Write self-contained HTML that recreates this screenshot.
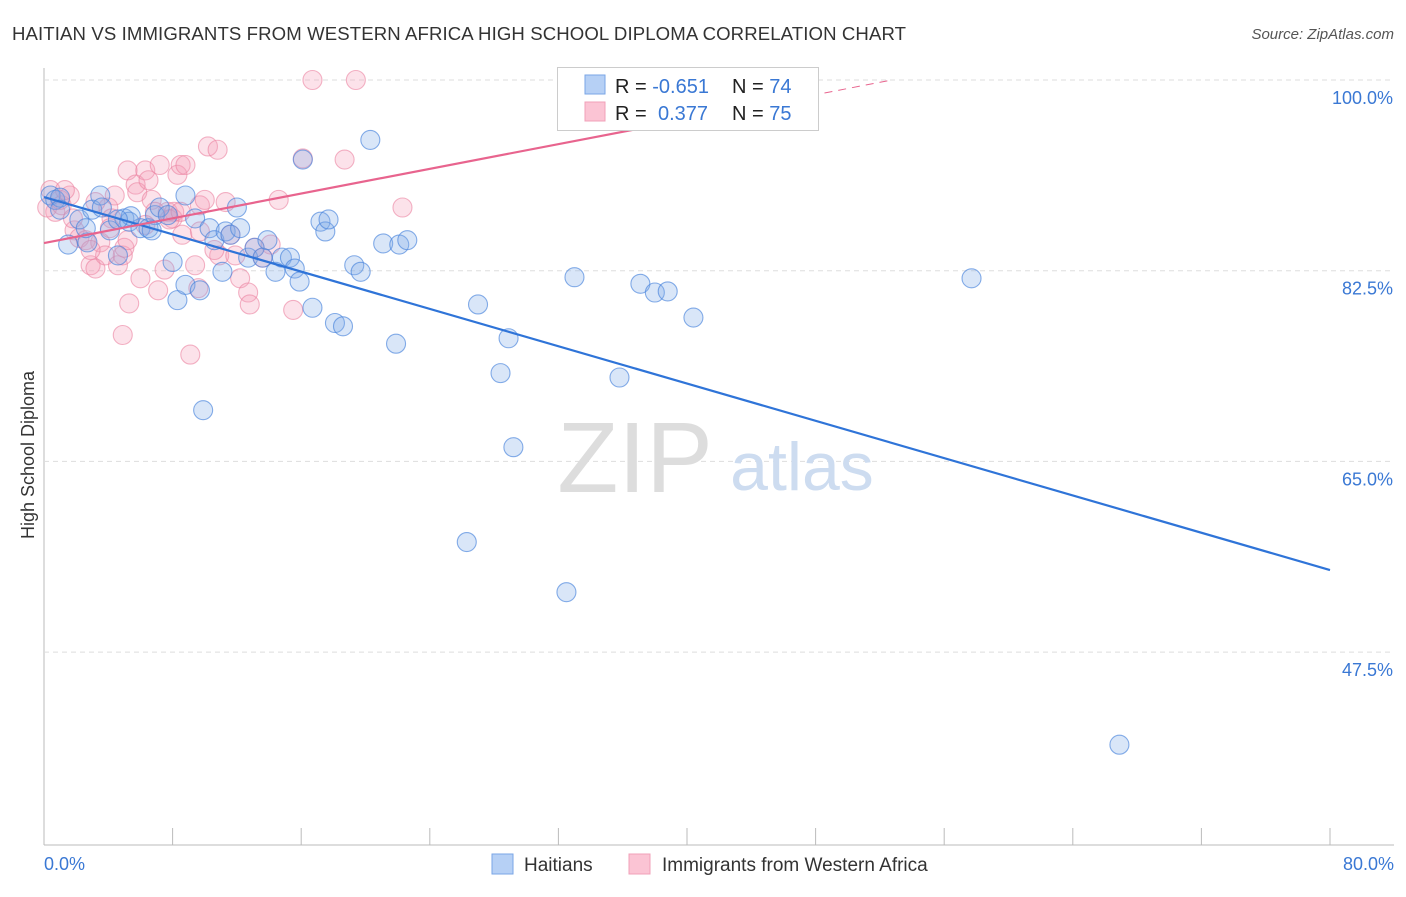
<!DOCTYPE html>
<html><head><meta charset="utf-8"><style>
body{margin:0;background:#fff;font-family:"Liberation Sans",sans-serif;}
svg text{font-family:"Liberation Sans",sans-serif;}
</style></head><body>
<svg id="c" width="1406" height="892" xmlns="http://www.w3.org/2000/svg">
<text x="12" y="40" font-size="18.6" fill="#333" textLength="894">HAITIAN VS IMMIGRANTS FROM WESTERN AFRICA HIGH SCHOOL DIPLOMA CORRELATION CHART</text>
<text x="1394" y="39" font-size="15" fill="#555" font-style="italic" text-anchor="end">Source: ZipAtlas.com</text>
<g id="grid"></g>
<text x="635" y="492" font-size="100" fill="#ddd" font-family="Liberation Serif" text-anchor="middle">ZIP</text>
<text x="802" y="490" font-size="68" fill="#cddcf0" text-anchor="middle">atlas</text>
<g id="pts"></g>
<g id="lines"></g>
<text transform="translate(34,455) rotate(-90)" font-size="18" fill="#333" text-anchor="middle">High School Diploma</text>
<text x="44" y="870" font-size="18" fill="#3a78d4">0.0%</text>
<text x="1394" y="870" font-size="18" fill="#3a78d4" text-anchor="end">80.0%</text>
<g>
<rect x="557.5" y="67.5" width="261" height="63" fill="#fff" stroke="#ccc"/>
<rect x="585" y="75" width="20" height="19" fill="#b6d0f5" stroke="#7aa6e6"/>
<rect x="585" y="102" width="20" height="19" fill="#fbc4d4" stroke="#f0a0b8"/>
<text x="615" y="93" font-size="20" fill="#222">R = <tspan fill="#3a78d4">-0.651</tspan><tspan x="732">N = </tspan><tspan fill="#3a78d4">74</tspan></text>
<text x="615" y="120" font-size="20" fill="#222">R = <tspan x="658" fill="#3a78d4">0.377</tspan><tspan x="732">N = </tspan><tspan fill="#3a78d4">75</tspan></text>
</g>
<g>
<rect x="492" y="854" width="21" height="20" fill="#b6d0f5" stroke="#7aa6e6"/>
<text x="524" y="871" font-size="19" fill="#333">Haitians</text>
<rect x="629" y="854" width="21" height="20" fill="#fbc4d4" stroke="#f0a0b8"/>
<text x="662" y="871" font-size="19" fill="#333">Immigrants from Western Africa</text>
</g>
</svg>
<script>
const yTicks=[100,82.5,65,47.5];
const yTickLabels=["100.0%","82.5%","65.0%","47.5%"];
const xTicks=[0,8,16,24,32,40,48,56,64,72,80];
const blueX=[0.4,0.7,1.0,1.5,2.2,2.7,3.0,3.5,3.6,4.1,4.6,5.0,5.3,6.0,6.5,6.9,7.2,7.7,8.0,8.3,8.8,8.8,9.4,9.7,9.9,10.3,10.6,11.1,11.3,11.6,12.0,12.2,12.7,13.1,13.6,13.9,14.4,14.8,15.3,15.6,15.9,16.1,16.7,17.2,17.5,17.7,18.1,18.6,19.3,19.7,20.3,21.1,21.9,22.1,22.6,26.3,27.0,28.4,28.9,29.2,32.5,33.0,35.8,37.1,38.0,38.8,40.4,57.7,66.9,5.4,2.6,1.0,6.7,4.6];
const blueY=[89.4,89.0,89.2,84.9,87.2,85.1,88.1,89.4,88.3,86.2,83.9,87.3,87.0,86.4,86.4,87.6,88.3,87.6,83.3,79.8,89.4,81.2,87.3,80.7,69.7,86.4,85.3,82.4,86.1,85.8,88.3,86.4,83.7,84.6,83.7,85.3,82.4,83.7,83.7,82.7,81.5,92.7,79.1,87.0,86.1,87.2,77.7,77.4,83.0,82.4,94.5,85.0,75.8,84.9,85.3,57.6,79.4,73.1,76.3,66.3,53.0,81.9,72.7,81.3,80.5,80.6,78.2,81.8,39.0,87.5,86.4,88.1,86.2,87.2];
const pinkX=[0.4,0.7,0.2,1.1,1.6,1.9,2.2,2.6,2.9,3.2,3.5,3.8,4.0,4.2,4.4,4.6,4.9,5.0,5.2,5.3,4.9,5.7,5.8,6.0,6.3,6.5,6.7,6.9,7.1,7.2,7.5,7.7,8.0,8.1,8.3,8.5,8.6,8.8,9.1,9.4,9.6,9.7,10.0,10.2,10.8,10.9,11.3,11.6,11.9,12.2,12.7,12.8,13.1,14.1,14.6,15.5,16.1,16.7,18.7,19.4,22.3,34.0,1.0,1.3,2.9,4.1,5.2,6.3,7.8,9.7,10.6,8.5,3.2,1.8,13.6];
const pinkY=[89.9,87.9,88.3,88.5,89.4,86.2,85.5,85.3,83.0,82.7,85.1,83.9,88.3,87.3,89.4,83.0,83.9,84.6,91.7,79.5,76.6,90.4,89.7,81.8,91.7,90.8,89.0,87.9,80.7,92.2,82.6,87.9,87.3,87.9,91.3,92.2,85.8,92.2,74.8,83.0,80.9,88.5,89.0,93.9,93.6,83.9,88.8,85.8,83.9,81.8,80.5,79.4,84.6,84.9,89.0,78.9,92.8,100.0,92.7,100.0,88.3,98.6,89.0,89.9,84.4,86.4,85.3,86.7,87.2,86.1,84.4,87.9,88.8,87.3,83.7];
const blueFit=[89.26,55.03];
const pinkFit=[85.04,0.2836];
const NS="http://www.w3.org/2000/svg";
const X0=44,X1=1330,Y100=80,PXPER=10.897,BOTTOM=845;
function sx(v){return X0+(X1-X0)*v/80;}
function sy(v){return Y100+(100-v)*PXPER;}
function mk(tag,attrs,parent){const e=document.createElementNS(NS,tag);for(const k in attrs)e.setAttribute(k,attrs[k]);parent.appendChild(e);return e;}
const grid=document.getElementById('grid');
let ax=mk('line',{x1:44,y1:68,x2:44,y2:BOTTOM,stroke:'#bbb'},grid);


let bx=mk('line',{x1:44,y1:BOTTOM,x2:1394,y2:BOTTOM,stroke:'#bbb'},grid);


yTicks.forEach((t,i)=>{
 const g=mk('line',{x1:44,y1:sy(t),x2:1394,y2:sy(t),stroke:'#ddd','stroke-dasharray':'5,4'},grid);
 
 
 const tx=mk('text',{x:1393,y:sy(t)+24,'font-size':18,fill:'#3a78d4','text-anchor':'end'},grid);
 tx.textContent=yTickLabels[i];
 
 
});
xTicks.forEach(t=>{
 const l=mk('line',{x1:sx(t),y1:BOTTOM,x2:sx(t),y2:828,stroke:'#bbb'},grid);
 
 
});
const pts=document.getElementById('pts');
pinkX.forEach((x,i)=>{
 const c=mk('circle',{cx:sx(x),cy:sy(pinkY[i]),r:9.5,fill:'rgba(244,160,186,0.3)',stroke:'rgba(235,130,160,0.6)','stroke-width':1.1},pts);
 
 
});
blueX.forEach((x,i)=>{
 const c=mk('circle',{cx:sx(x),cy:sy(blueY[i]),r:9.5,fill:'rgba(130,172,232,0.3)',stroke:'rgba(70,130,220,0.65)','stroke-width':1.1},pts);
 
 
});
const lines=document.getElementById('lines');
let bl=mk('line',{x1:sx(0),y1:sy(blueFit[0]),x2:sx(80),y2:sy(blueFit[1]),stroke:'#2f74d8','stroke-width':2.2},lines);


const pEnd=(100-pinkFit[0])/pinkFit[1];
let pl=mk('line',{x1:sx(0),y1:sy(pinkFit[0]),x2:sx(40),y2:sy(pinkFit[0]+40*pinkFit[1]),stroke:'#e8648e','stroke-width':2.2},lines);


let pd=mk('line',{x1:sx(40),y1:sy(pinkFit[0]+40*pinkFit[1]),x2:sx(pEnd),y2:sy(100),stroke:'#e8648e','stroke-width':1,'stroke-dasharray':'8,6'},lines);


</script>
</body></html>
